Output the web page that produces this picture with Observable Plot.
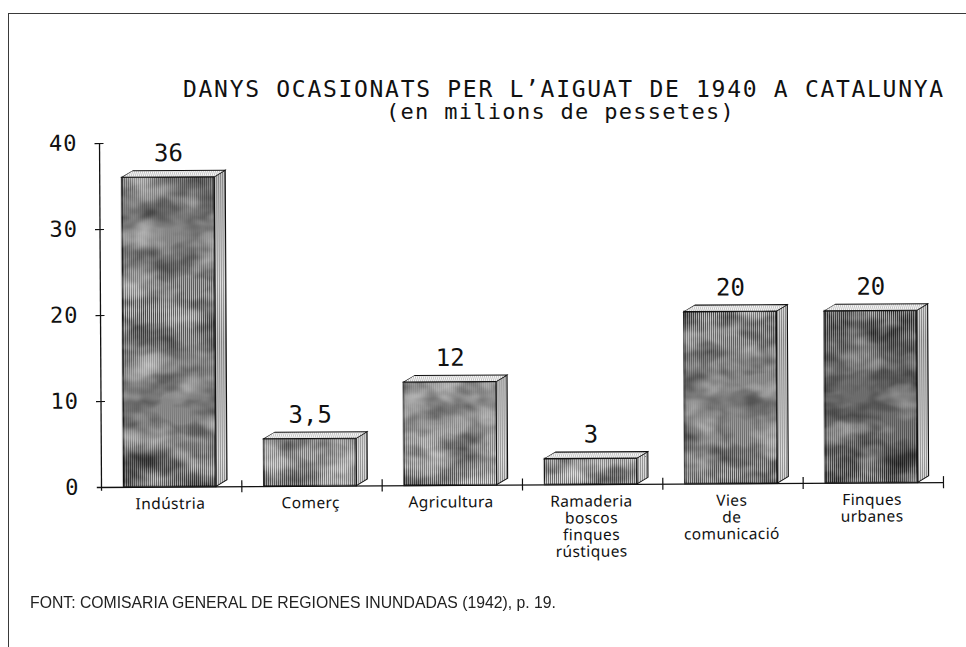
<!DOCTYPE html>
<html>
<head>
<meta charset="utf-8">
<script src="https://cdn.jsdelivr.net/npm/d3@7"></script>
<script src="https://cdn.jsdelivr.net/npm/@observablehq/plot@0.6"></script>
<style>
  html, body { margin: 0; padding: 0; background: #fff; }
  #page { position: relative; width: 966px; height: 647px; overflow: hidden; background: #fff; }
  #frameTop { position: absolute; left: 8px; top: 13px; width: 958px; height: 0; border-top: 1.5px solid #3a3a3a; }
  #frameLeft { position: absolute; left: 8px; top: 13px; width: 0; height: 640px; border-left: 1.5px solid #3a3a3a; }
  .mono { font-family: "DejaVu Sans Mono", "Liberation Mono", monospace; color: #111; white-space: nowrap; }
  #title { position: absolute; left: 183px; top: 78px; font-size: 23px; line-height: 23px; letter-spacing: 1.7px; }
  #subtitle { position: absolute; left: 386px; top: 101px; font-size: 22px; line-height: 22px; letter-spacing: 1.3px; }
  #chart { position: absolute; left: 0; top: 125px; }
  #chart svg { transform: rotate(-0.33deg); transform-origin: 101px 362px; }
  #caption { position: absolute; left: 30px; top: 594px; font-family: "Liberation Sans Narrow", "Liberation Sans", Arial, sans-serif; font-size: 17px; line-height: 17px; color: #222; white-space: nowrap; transform-origin: 0 0; }
</style>
</head>
<body>
<div id="page">
  <div id="frameTop"></div>
  <div id="frameLeft"></div>
  <div id="title" class="mono">DANYS OCASIONATS PER L’AIGUAT DE 1940 A CATALUNYA</div>
  <div id="subtitle" class="mono">(en milions de pessetes)</div>
  <div id="chart"></div>
  <div id="caption">FONT: COMISARIA GENERAL DE REGIONES INUNDADAS (1942), p. 19.</div>
</div>
<script>
// ---- data ----
const categories = ["Indústria", "Comerç", "Agricultura", "Ramaderia\nboscos\nfinques\nrústiques", "Vies\nde\ncomunicació", "Finques\nurbanes"];
const values = [36, 5.5, 12, 3, 20, 20];          // drawn bar heights
const valueLabels = ["36", "3,5", "12", "3", "20", "20"]; // printed labels
const yTicks = [0, 10, 20, 30, 40];

// ---- style ----
const frontTones = [134, 154, 160, 156, 136, 108];
const X0 = 0.16, X1 = 0.82;   // front face within each slot
const D = 0.078, E = 0.75;    // 3D depth (x units, y units)

const bars = categories.map((c, i) => ({i, c, v: values[i], label: valueLabels[i]}));

const ink = "#111";
const svg = Plot.plot({
  width: 966, height: 445,
  marginTop: 18, marginBottom: 83, marginLeft: 101, marginRight: 23,
  x: {domain: [0, 6], axis: null},
  y: {domain: [0, 40], axis: null},
  color: {type: "identity"},
  style: {background: "transparent", color: ink, overflow: "visible"},
  marks: [
    // front faces
    Plot.rectY(bars, {x1: d => d.i + X0, x2: d => d.i + X1, y1: 0, y2: "v", fill: d => `url(#front${d.i})`, stroke: ink, strokeWidth: 1.2, ariaDescription: "front"}),
    // side faces (sheared afterwards into parallelograms)
    Plot.rectY(bars, {x1: d => d.i + X1, x2: d => d.i + X1 + D, y1: 0, y2: "v", fill: d => "url(#side)", stroke: ink, strokeWidth: 1.1, ariaDescription: "side"}),
    // top faces (sheared afterwards into parallelograms)
    Plot.rectY(bars, {x1: d => d.i + X0, x2: d => d.i + X1, y1: "v", y2: d => d.v + E, fill: d => "url(#top)", stroke: ink, strokeWidth: 1.1, ariaDescription: "top"}),
    // axis lines and ticks
    Plot.ruleX([0], {y1: -0.45, y2: 40, stroke: ink, strokeWidth: 1.3}),
    Plot.ruleY([0], {x1: -0.03, x2: 6, stroke: ink, strokeWidth: 1.3}),
    Plot.ruleY(yTicks.filter(t => t > 0), {x1: -0.032, x2: 0.032, stroke: ink, strokeWidth: 1.2}),
    Plot.ruleX([1, 2, 3, 4, 5, 6], {y1: -0.7, y2: 0.7, stroke: ink, strokeWidth: 1.2}),
    // y tick labels
    Plot.text(yTicks, {x: 0, y: d => d, text: d => String(d), textAnchor: "end", lineAnchor: "middle", dx: -22, fontSize: 22, fontFamily: "DejaVu Sans Mono", fill: ink, ariaDescription: "yaxis"}),
    // category labels
    Plot.text(bars, {x: d => d.i + 0.49, y: 0, text: "c", lineAnchor: "top", dy: 10, fontSize: 15.5, lineHeight: 1.08, fontFamily: "Noto Sans, Lato, sans-serif", fill: ink, ariaDescription: "xlabels"}),
    // value labels
    Plot.text(bars, {x: d => d.i + 0.49, y: d => d.v + E, text: "label", lineAnchor: "bottom", dy: -10, fontSize: 24, fontFamily: "DejaVu Sans Mono", fill: ink, ariaDescription: "values"})
  ]
});

// patterns & texture
const defs = d3.select(svg).insert("defs", ":first-child");
function stripes(id, light, dark) {
  const p = defs.append("pattern").attr("id", id).attr("patternUnits", "userSpaceOnUse").attr("width", 2).attr("height", 2);
  p.append("rect").attr("width", 2).attr("height", 2).attr("fill", light);
  p.append("rect").attr("width", 1).attr("height", 2).attr("fill", dark);
}
const g = v => `rgb(${v},${v},${v})`;
frontTones.forEach((t, i) => stripes(`front${i}`, g(Math.min(255, t + 60)), g(Math.max(0, t - 60))));
stripes("side", g(222), g(130));
stripes("top", g(250), g(195));
const f = defs.append("filter").attr("id", "mottle").attr("x", "-5%").attr("y", "-5%").attr("width", "110%").attr("height", "110%").attr("color-interpolation-filters", "sRGB");
f.append("feTurbulence").attr("type", "fractalNoise").attr("baseFrequency", "0.025 0.04").attr("numOctaves", 3).attr("seed", 7).attr("result", "noise");
f.append("feColorMatrix").attr("in", "noise").attr("type", "matrix").attr("values", "0 0 0 0 0  0 0 0 0 0  0 0 0 0 0  1.1 0 0 0 -0.42").attr("result", "dark");
f.append("feColorMatrix").attr("in", "noise").attr("type", "matrix").attr("values", "0 0 0 0 1  0 0 0 0 1  0 0 0 0 1  0 0.9 0 0 -0.4").attr("result", "light");
f.append("feComposite").attr("in", "dark").attr("in2", "SourceGraphic").attr("operator", "in").attr("result", "darkIn");
f.append("feComposite").attr("in", "light").attr("in2", "SourceGraphic").attr("operator", "in").attr("result", "lightIn");
const m = f.append("feMerge");
m.append("feMergeNode").attr("in", "SourceGraphic");
m.append("feMergeNode").attr("in", "darkIn");
m.append("feMergeNode").attr("in", "lightIn");

const s = d3.select(svg);
const grp = name => s.select(`g[aria-description="${name}"]`);
grp("front").selectAll("rect").attr("filter", "url(#mottle)");
grp("xlabels").attr("letter-spacing", "0.4px");
grp("yaxis").attr("letter-spacing", "1px");

// shear the side and top rectangles into the 3D faces
const topRects = grp("top").selectAll("rect").nodes();
const sideRects = grp("side").selectAll("rect").nodes();
topRects.forEach((tr, k) => {
  const sr = sideRects[k];
  const ePx = +tr.getAttribute("height");
  const dPx = +sr.getAttribute("width");
  const sx = +sr.getAttribute("x");
  const yB = +tr.getAttribute("y") + ePx;
  const angY = -Math.atan(ePx / dPx) * 180 / Math.PI;
  const angX = -Math.atan(dPx / ePx) * 180 / Math.PI;
  sr.setAttribute("transform", `translate(${sx},0) skewY(${angY}) translate(${-sx},0)`);
  tr.setAttribute("transform", `translate(0,${yB}) skewX(${angX}) translate(0,${-yB})`);
});

document.getElementById("chart").appendChild(svg);

// fit caption width to the reference line length
const cap = document.getElementById("caption");
const w = cap.getBoundingClientRect().width;
cap.style.transform = `scaleX(${526 / w})`;
</script>
</body>
</html>
